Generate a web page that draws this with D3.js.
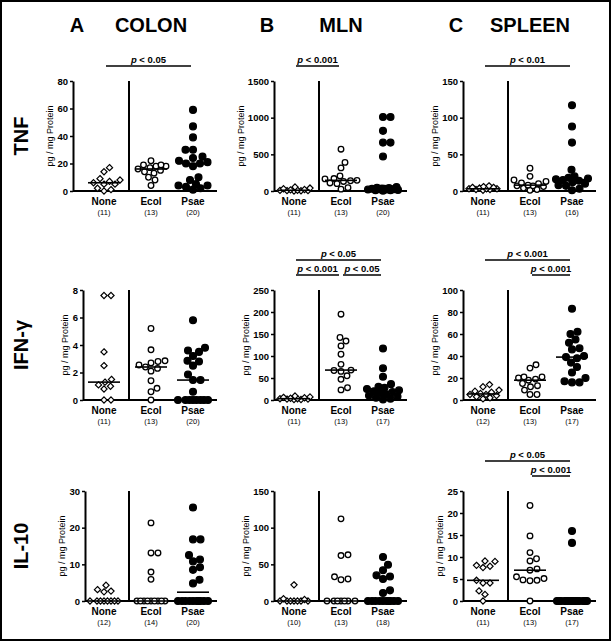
<!DOCTYPE html>
<html>
<head>
<meta charset="utf-8">
<script src="https://cdn.jsdelivr.net/npm/d3@7"></script>
<style>
  body { margin: 0; background: #fff; }
  svg { display: block; font-family: 'Liberation Sans', Arial, sans-serif; }
</style>
</head>
<body>
<svg id="chart" width="611" height="641"></svg>
<script>
const groups = ['None', 'Ecol', 'Psae']
const organs = ['COLON', 'MLN', 'SPLEEN']
const organLetters = ['A', 'B', 'C']
const cytokines = ['TNF', 'IFN-γ', 'IL-10']

// TNF (pg / mg protein)
const colonTnfNone = [17, 14, 9, 8, 7, 6, 5, 5, 2, 1, 0]
const colonTnfEcol = [22, 19, 19, 18, 18, 17, 16, 15, 14, 13, 10, 8, 4]
const colonTnfPsae = [59, 47, 39, 30, 30, 25, 24, 22, 21, 20, 20, 18, 10, 8, 5, 4, 4, 3, 2, 1]
const mlnTnfNone = [55, 40, 30, 20, 15, 10, 8, 5, 5, 3, 0]
const mlnTnfEcol = [570, 390, 315, 205, 170, 165, 145, 140, 130, 110, 100, 45, 25]
const mlnTnfPsae = [1010, 1010, 820, 660, 660, 470, 55, 45, 40, 35, 30, 30, 25, 25, 20, 20, 15, 10, 10, 5]
const spleenTnfNone = [7, 6, 5, 5, 4, 3, 3, 3, 2, 2, 1]
const spleenTnfEcol = [31, 20, 15, 13, 11, 10, 8, 7, 7, 6, 4, 2, 1]
const spleenTnfPsae = [117, 88, 66, 29, 20, 18, 17, 16, 15, 14, 12, 10, 8, 7, 3, 1]

// IFN-gamma
const colonIfnNone = [7.6, 7.6, 3.5, 2.5, 1.5, 1.3, 1.1, 1.0, 0.8, 0, 0]
const colonIfnEcol = [5.2, 3.65, 2.85, 2.8, 2.7, 2.55, 2.4, 2.3, 2.1, 1.4, 0.85, 0.6, 0]
const colonIfnPsae = [5.8, 3.8, 3.6, 3.5, 3.2, 2.85, 2.8, 2.5, 1.85, 1.45, 1.45, 0.6, 0, 0, 0, 0, 0, 0, 0, 0]
const mlnIfnNone = [9, 7, 6, 5, 4, 3, 3, 2, 2, 1, 1]
const mlnIfnEcol = [195, 142, 134, 123, 104, 81, 68, 67, 65, 55, 47, 28, 23]
const mlnIfnPsae = [117, 72, 53, 36, 30, 28, 25, 22, 20, 18, 15, 12, 10, 8, 5, 3, 1]
const spleenIfnNone = [14, 12, 9, 8, 7, 6, 5, 5, 4, 3, 2, 1]
const spleenIfnEcol = [32, 29, 21, 21, 20, 19, 18, 15, 13, 12, 9, 5, 5]
const spleenIfnPsae = [83, 62, 60, 55, 52, 47, 46, 40, 39, 38, 34, 30, 25, 20, 17, 16, 16]

// IL-10
const colonIl10None = [4.3, 3.1, 2.7, 2.5, 0, 0, 0, 0, 0, 0, 0, 0]
const colonIl10Ecol = [21.3, 13.1, 13.1, 7.9, 5.9, 0, 0, 0, 0, 0, 0, 0, 0, 0]
const colonIl10Psae = [25.5, 16.8, 16.8, 12.5, 11.3, 10.8, 9.2, 8.5, 5.8, 4.8, 0, 0, 0, 0, 0, 0, 0, 0, 0, 0]
const mlnIl10None = [22, 3, 2, 0, 0, 0, 0, 0, 0, 0]
const mlnIl10Ecol = [112, 63, 62, 33, 30, 29, 0, 0, 0, 0, 0, 0, 0]
const mlnIl10Psae = [60, 49.5, 42, 35, 33.5, 30, 14.5, 11, 0, 0, 0, 0, 0, 0, 0, 0, 0, 0]
const spleenIl10None = [9.1, 9.0, 8.1, 7.9, 7.6, 4.7, 4.1, 4.1, 2.3, 1.5, 0]
const spleenIl10Ecol = [21.7, 14.8, 11, 9.6, 9.1, 7.3, 7.0, 5.5, 5.1, 4.8, 4.7, 4.6, 0]
const spleenIl10Psae = [15.9, 13.2, 0, 0, 0, 0, 0, 0, 0, 0, 0, 0, 0, 0, 0, 0, 0]

// y axis ticks
const colonTnfTicks = [0, 20, 40, 60, 80]
const mlnTnfTicks = [0, 500, 1000, 1500]
const spleenTnfTicks = [0, 50, 100, 150]
const colonIfnTicks = [0, 2, 4, 6, 8]
const mlnIfnTicks = [0, 50, 100, 150, 200, 250]
const spleenIfnTicks = [0, 20, 40, 60, 80, 100]
const colonIl10Ticks = [0, 10, 20, 30]
const mlnIl10Ticks = [0, 50, 100, 150]
const spleenIl10Ticks = [0, 5, 10, 15, 20, 25]

// significance bars: [from, to, p label, stack level]
const colonTnfSig = [['None', 'Psae', '0.05', 0]]
const mlnTnfSig = [['None', 'Ecol', '0.001', 0]]
const spleenTnfSig = [['None', 'Psae', '0.01', 0]]
const mlnIfnSig = [['None', 'Psae', '0.05', 1], ['None', 'Ecol', '0.001', 0], ['Ecol', 'Psae', '0.05', 0]]
const spleenIfnSig = [['None', 'Psae', '0.001', 1], ['Ecol', 'Psae', '0.001', 0]]
const spleenIl10Sig = [['None', 'Psae', '0.05', 1], ['Ecol', 'Psae', '0.001', 0]]

const panelData = [
  [[colonTnfNone, colonTnfEcol, colonTnfPsae], [mlnTnfNone, mlnTnfEcol, mlnTnfPsae], [spleenTnfNone, spleenTnfEcol, spleenTnfPsae]],
  [[colonIfnNone, colonIfnEcol, colonIfnPsae], [mlnIfnNone, mlnIfnEcol, mlnIfnPsae], [spleenIfnNone, spleenIfnEcol, spleenIfnPsae]],
  [[colonIl10None, colonIl10Ecol, colonIl10Psae], [mlnIl10None, mlnIl10Ecol, mlnIl10Psae], [spleenIl10None, spleenIl10Ecol, spleenIl10Psae]]
]
const panelTicks = [
  [colonTnfTicks, mlnTnfTicks, spleenTnfTicks],
  [colonIfnTicks, mlnIfnTicks, spleenIfnTicks],
  [colonIl10Ticks, mlnIl10Ticks, spleenIl10Ticks]
]
const panelSig = [
  [colonTnfSig, mlnTnfSig, spleenTnfSig],
  [[], mlnIfnSig, spleenIfnSig],
  [[], [], spleenIl10Sig]
]

// layout
const rowBase = [191, 400, 601]
const plotH = 110
const noneX = [104, 294, 483]
const axisGap = [[31, 20, 20], [21, 20, 20], [19, 20, 20]]
const catOffset = d3.scaleOrdinal().domain(groups).range([0, 47, 89])
const dividerOffset = 25
const axisRight = 113
const halfSpread = 16

const svg = d3.select('#chart')

svg.append('rect')
  .attr('x', 1).attr('y', 1)
  .attr('width', 609).attr('height', 639)
  .attr('fill', '#fff')
  .attr('stroke', '#000')
  .attr('stroke-width', 2)

// spread points sideways so they don't sit on top of each other
const swarm = (values, y, cx, minDist) => {
  const placed = []
  const sorted = values.map(v => ({ v, py: y(v) })).sort((a, b) => b.py - a.py)
  sorted.forEach(p => {
    let bestOff = 0
    let bestD = -1
    for (let i = 0; i <= halfSpread * 4; i++) {
      const off = (i % 2 ? 1 : -1) * Math.ceil(i / 2) * 0.5
      const d = placed.length
        ? d3.min(placed, q => Math.hypot(q.px - (cx + off), q.py - p.py))
        : Infinity
      if (d >= minDist) { bestOff = off; bestD = d; break }
      if (d > bestD + 0.01) { bestD = d; bestOff = off }
    }
    p.px = cx + bestOff
    placed.push(p)
  })
  return placed
}

const diamond = h => `M0,${-h}L${h},0L0,${h}L${-h},0Z`

// column headers
organs.forEach((o, c) => {
  const cx = noneX[c] + catOffset('Ecol')
  svg.append('text')
    .attr('x', cx - 74).attr('y', 32)
    .attr('text-anchor', 'middle')
    .style('font-size', '20px').style('font-weight', 'bold')
    .text(organLetters[c])
  svg.append('text')
    .attr('x', cx).attr('y', 32)
    .attr('text-anchor', 'middle')
    .style('font-size', '20px').style('font-weight', 'bold')
    .text(o)
})

// row labels
cytokines.forEach((name, r) => {
  svg.append('text')
    .attr('transform', `translate(28,${rowBase[r] - plotH / 2}) rotate(-90)`)
    .attr('text-anchor', 'middle')
    .style('font-size', '20px').style('font-weight', 'bold')
    .text(name)
})

panelData.forEach((rowData, r) => {
  rowData.forEach((sets, c) => {
    const base = rowBase[r]
    const top = base - plotH
    const ticks = panelTicks[r][c]
    const ax = noneX[c] - axisGap[r][c]
    const x = g => noneX[c] + catOffset(g)
    const y = d3.scaleLinear().domain([0, d3.max(ticks)]).range([base, top])
    const g = svg.append('g')

    // y axis
    const yAxis = g.append('g')
      .attr('transform', `translate(${ax},0)`)
      .call(d3.axisLeft(y).tickValues(ticks).tickFormat(d3.format('d'))
        .tickSize(3).tickSizeOuter(0).tickPadding(2))
    yAxis.select('.domain').attr('stroke-width', 2)
    yAxis.selectAll('.tick line').attr('stroke-width', 1.5)
    yAxis.selectAll('.tick text')
      .attr('font-family', null).attr('font-size', null)
      .style('font-size', '9.5px').style('font-weight', 'bold')
    const tw = d3.max(yAxis.selectAll('.tick text').nodes(), n => n.getBBox().width)

    g.append('text')
      .attr('transform', `translate(${ax - 5 - tw - 4},${(base + top) / 2}) rotate(-90)`)
      .attr('text-anchor', 'middle')
      .style('font-size', '9px')
      .text('pg / mg Protein')

    // x axis baseline and the divider after the control group
    g.append('line')
      .attr('x1', ax).attr('x2', noneX[c] + axisRight)
      .attr('y1', y(0)).attr('y2', y(0))
      .attr('stroke', '#000').attr('stroke-width', 2)
    g.append('line')
      .attr('x1', noneX[c] + dividerOffset).attr('x2', noneX[c] + dividerOffset)
      .attr('y1', y(d3.max(ticks))).attr('y2', y(0))
      .attr('stroke', '#000').attr('stroke-width', 2)

    // category labels and n
    groups.forEach((grp, i) => {
      g.append('text')
        .attr('x', x(grp)).attr('y', base + 14)
        .attr('text-anchor', 'middle')
        .style('font-size', '10px').style('font-weight', 'bold')
        .text(grp)
      g.append('text')
        .attr('x', x(grp)).attr('y', base + 24)
        .attr('text-anchor', 'middle')
        .style('font-size', '7.5px')
        .text(`(${sets[i].length})`)
    })

    // dots
    groups.forEach((grp, i) => {
      const pts = swarm(sets[i], y, x(grp), grp === 'Psae' ? 7.2 : 6.8)
      const layer = g.append('g')
      if (grp === 'None') {
        layer.selectAll('path').data(pts).enter().append('path')
          .attr('d', diamond(3.1))
          .attr('transform', d => `translate(${d.px},${d.py})`)
          .attr('fill', '#fff').attr('stroke', '#000').attr('stroke-width', 1.2)
      } else {
        layer.selectAll('circle').data(pts).enter().append('circle')
          .attr('cx', d => d.px).attr('cy', d => d.py)
          .attr('r', grp === 'Psae' ? 3.4 : 2.8)
          .attr('fill', grp === 'Psae' ? '#000' : '#fff')
          .attr('stroke', '#000').attr('stroke-width', 1.3)
      }
      // median
      const m = d3.median(sets[i])
      g.append('line')
        .attr('x1', x(grp) - halfSpread).attr('x2', x(grp) + halfSpread)
        .attr('y1', y(m)).attr('y2', y(m))
        .attr('stroke', '#000').attr('stroke-width', 1.6)
    })

    // significance bars
    panelSig[r][c].forEach(([g1, g2, p, level]) => {
      const ly = top - 15 - 15 * level
      const x1 = x(g1) + 2
      const x2 = x(g2) - 2
      g.append('line')
        .attr('x1', x1).attr('x2', x2)
        .attr('y1', ly).attr('y2', ly)
        .attr('stroke', '#000').attr('stroke-width', 1.6)
      const t = g.append('text')
        .attr('x', (x1 + x2) / 2).attr('y', ly - 3.5)
        .attr('text-anchor', 'middle')
        .style('font-size', '9.5px').style('font-weight', 'bold')
      t.append('tspan').style('font-style', 'italic').text('p')
      t.append('tspan').text(` < ${p}`)
    })
  })
})
</script>
</body>
</html>
